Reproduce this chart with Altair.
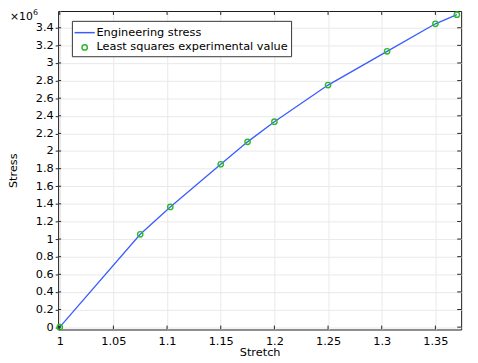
import altair as alt
import pandas as pd

# Data
stretch = [1.0, 1.075, 1.103, 1.15, 1.175, 1.2, 1.25, 1.305, 1.35, 1.37]
stress = [0.0, 1.054e6, 1.365e6, 1.85e6, 2.104e6, 2.333e6, 2.749e6, 3.132e6, 3.445e6, 3.549e6]
series_names = ["Engineering stress", "Least squares experimental value"]
x_ticks = [1.0, 1.05, 1.1, 1.15, 1.2, 1.25, 1.3, 1.35]
y_ticks = [0.0, 0.2e6, 0.4e6, 0.6e6, 0.8e6, 1.0e6, 1.2e6, 1.4e6, 1.6e6, 1.8e6,
           2.0e6, 2.2e6, 2.4e6, 2.6e6, 2.8e6, 3.0e6, 3.2e6, 3.4e6]

W, H = 410, 324
FONT = "DejaVu Sans"

df_line = pd.DataFrame({"Stretch": stretch, "Stress": stress, "series": series_names[0]})
df_pts = pd.DataFrame({"Stretch": stretch, "Stress": stress, "series": series_names[1]})
df_xt = pd.DataFrame({"Stretch": x_ticks})
df_yt = pd.DataFrame({"Stress": y_ticks})

xscale = alt.Scale(domain=[0.9985, 1.374], nice=False, zero=False)
yscale = alt.Scale(domain=[-0.027e6, 3.59e6], nice=False, zero=False)
color_scale = alt.Scale(domain=series_names, range=["#3a5cff", "#2db82d"])
small_circle = "M-0.33,0A0.33,0.33 0 1,1 0.33,0A0.33,0.33 0 1,1 -0.33,0Z"
shape_scale = alt.Scale(domain=series_names, range=["M-1.25,0L1.25,0", small_circle])
size_scale = alt.Scale(domain=series_names, range=[270, 270])

x_axis = alt.Axis(values=x_ticks, format="~g", title="Stretch", grid=True,
                  tickSize=0, labelPadding=6, domain=False, titleY=17, titleBaseline="top")
y_axis = alt.Axis(values=y_ticks, labelExpr="format(datum.value/1e6, '~g')", title="Stress",
                  grid=True, tickSize=3, labelPadding=2, domain=False, titleX=-40,
                  labelOverlap=False)

legend = alt.Legend(
    title=None, orient="none", legendX=14, legendY=10,
    fillColor="white", strokeColor="#333", padding=3, rowPadding=0,
    symbolStrokeWidth=1.5, labelOffset=3, symbolOffset=1, symbolFillColor="transparent",
    labelFont=FONT, labelFontSize=11.5, labelColor="black", labelLimit=400,
)

X = alt.X("Stretch:Q", scale=xscale, axis=x_axis)
Y = alt.Y("Stress:Q", scale=yscale, axis=y_axis)

line = alt.Chart(df_line).mark_line(strokeWidth=1.3).encode(
    x=X, y=Y,
    color=alt.Color("series:N", scale=color_scale, legend=legend),
)

pts = alt.Chart(df_pts).mark_point(filled=False, strokeWidth=1.4, opacity=1).encode(
    x=X, y=Y,
    color=alt.Color("series:N", scale=color_scale, legend=legend),
    shape=alt.Shape("series:N", scale=shape_scale, legend=legend),
    size=alt.Size("series:N", scale=size_scale, legend=legend),
)

tick_color = "#222"
top_ticks = alt.Chart(df_xt).mark_rule(color=tick_color).encode(
    x=X, y=alt.value(0), y2=alt.value(4))
bot_ticks = alt.Chart(df_xt).mark_rule(color=tick_color).encode(
    x=X, y=alt.value(H - 4), y2=alt.value(H))
left_ticks = alt.Chart(df_yt).mark_rule(color=tick_color).encode(
    y=Y, x=alt.value(0), x2=alt.value(3))
right_ticks = alt.Chart(df_yt).mark_rule(color=tick_color).encode(
    y=Y, x=alt.value(W - 4), x2=alt.value(W))

mult = alt.Chart(pd.DataFrame({"s": ["×10"]})).mark_text(
    align="left", baseline="alphabetic", font=FONT, fontSize=11, color="black"
).encode(text="s:N", x=alt.value(-49), y=alt.value(9.5))
sup = alt.Chart(pd.DataFrame({"s": ["6"]})).mark_text(
    align="left", baseline="alphabetic", font=FONT, fontSize=8, color="black"
).encode(text="s:N", x=alt.value(-25.5), y=alt.value(4))

chart = alt.layer(line, pts, top_ticks, bot_ticks, left_ticks, right_ticks, mult, sup).properties(
    width=W, height=H,
    autosize=alt.AutoSizeParams(type="none"),
    padding={"left": 51, "top": 0, "right": 9, "bottom": 31},
).configure_view(
    stroke="#1a1a1a", strokeWidth=1
).configure_axis(
    labelFont=FONT, labelFontSize=11.5, labelColor="black",
    titleFont=FONT, titleFontSize=11.5, titleColor="black", titleFontWeight="normal",
    gridColor="#e9e9e9", gridWidth=1, tickColor=tick_color,
)

chart.save("out.html", embed_options={"renderer": "svg", "actions": False})
